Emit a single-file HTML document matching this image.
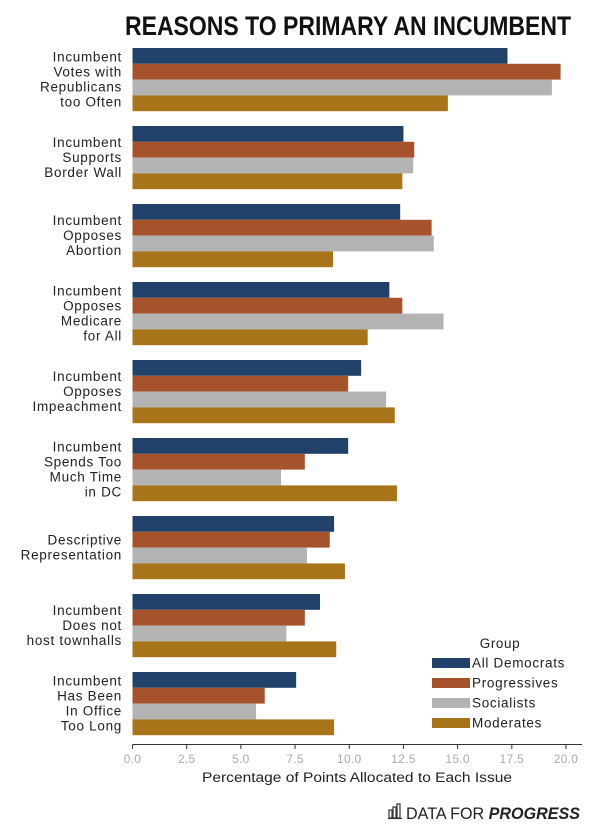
<!DOCTYPE html>
<html><head><meta charset="utf-8"><style>
html,body{margin:0;padding:0;background:#fff;}
svg{display:block;font-family:"Liberation Sans",sans-serif;}
</style></head><body>
<svg id="chart" width="600" height="824">
<text x="348" y="35" text-anchor="middle" font-size="27" font-weight="bold" fill="#111" textLength="446" lengthAdjust="spacingAndGlyphs">REASONS TO PRIMARY AN INCUMBENT</text>
<g id="bars"></g>
<g id="labels"></g>
<g id="axis"></g>
<g id="legend"></g>
<text x="357" y="782" text-anchor="middle" font-size="13.5" fill="#222" textLength="310" lengthAdjust="spacingAndGlyphs">Percentage of Points Allocated to Each Issue</text>
<g>
<g fill="none" stroke="#333" stroke-width="1.2">
<rect x="389" y="810" width="3" height="8"/><rect x="393" y="807" width="3" height="11"/><rect x="397" y="804" width="3" height="14"/><line x1="388" y1="818.5" x2="402" y2="818.5"/>
</g>
<text x="406" y="819" font-size="17" fill="#222" textLength="174" lengthAdjust="spacingAndGlyphs">DATA FOR <tspan font-weight="bold" font-style="italic">PROGRESS</tspan></text>
</g>
</svg>
<script>
const categories=[["Incumbent","Votes with","Republicans","too Often"],["Incumbent","Supports","Border Wall"],["Incumbent","Opposes","Abortion"],["Incumbent","Opposes","Medicare","for All"],["Incumbent","Opposes","Impeachment"],["Incumbent","Spends Too","Much Time","in DC"],["Descriptive","Representation"],["Incumbent","Does not","host townhalls"],["Incumbent","Has Been","In Office","Too Long"]];
const seriesNames=["All Democrats","Progressives","Socialists","Moderates"];
const allDemocrats=[17.3,12.5,12.35,11.85,10.55,9.95,9.3,8.65,7.55];
const progressives=[19.75,13.0,13.8,12.45,9.95,7.95,9.1,7.95,6.1];
const socialists=[19.35,12.95,13.9,14.35,11.7,6.85,8.05,7.1,5.7];
const moderates=[14.55,12.45,9.25,10.85,12.1,12.2,9.8,9.4,9.3];
const ticks=[0,2.5,5,7.5,10,12.5,15,17.5,20];
const colors=["#20416a","#a6522a","#b3b3b3","#a87419"];
const series=[allDemocrats,progressives,socialists,moderates];
const NS="http://www.w3.org/2000/svg";
const x0=132.5,x20=566;
const xs=v=>x0+(x20-x0)*v/20;
const groupTop=i=>48+i*78;
const barH=15.8;
const bars=document.getElementById('bars'),labels=document.getElementById('labels'),axis=document.getElementById('axis'),legend=document.getElementById('legend');
function mk(tag,attrs){const e=document.createElementNS(NS,tag);for(const k in attrs)e.setAttribute(k,attrs[k]);return e;}
categories.forEach((cat,i)=>{
  series.forEach((s,j)=>{
    const r=mk('rect',{x:xs(0),y:groupTop(i)+j*barH,width:xs(s[i])-xs(0),height:barH,fill:colors[j]});
    
    
    bars.appendChild(r);
  });
  const c=groupTop(i)+31.5;
  const t=mk('text',{'text-anchor':'end','font-size':'13.5','letter-spacing':'0.7',fill:'#222'});
  
  
  cat.forEach((line,k)=>{
    const ts=mk('tspan',{x:122,y:c+(k-(cat.length-1)/2)*15+4.5});
    ts.textContent=line;t.appendChild(ts);
  });
  labels.appendChild(t);
});
const al=mk('line',{x1:xs(0),x2:582,y1:744.5,y2:744.5,stroke:'#333','stroke-width':1});


axis.appendChild(al);
ticks.forEach(v=>{
  const tk=mk('line',{x1:xs(v),x2:xs(v),y1:744.5,y2:749,stroke:'#333'});
  
  
  axis.appendChild(tk);
  const tl=mk('text',{x:xs(v),y:763,'text-anchor':'middle','font-size':'12','letter-spacing':'0.3',fill:'#aaa'});
  
  
  tl.textContent=v.toFixed(1);axis.appendChild(tl);
});
const lt=mk('text',{x:500,y:648,'text-anchor':'middle','font-size':'13.5','letter-spacing':'0.6',fill:'#222'});


lt.textContent='Group';legend.appendChild(lt);
seriesNames.forEach((n,j)=>{
  const y=663+j*20;
  const g=mk('g',{});
  
  
  g.appendChild(mk('rect',{x:432,y:y-5,width:38,height:10,fill:colors[j]}));
  const tx=mk('text',{x:472,y:y+4.5,'font-size':'13.5','letter-spacing':'0.7',fill:'#222'});
  tx.textContent=n;g.appendChild(tx);
  legend.appendChild(g);
});
</script>
</body></html>
